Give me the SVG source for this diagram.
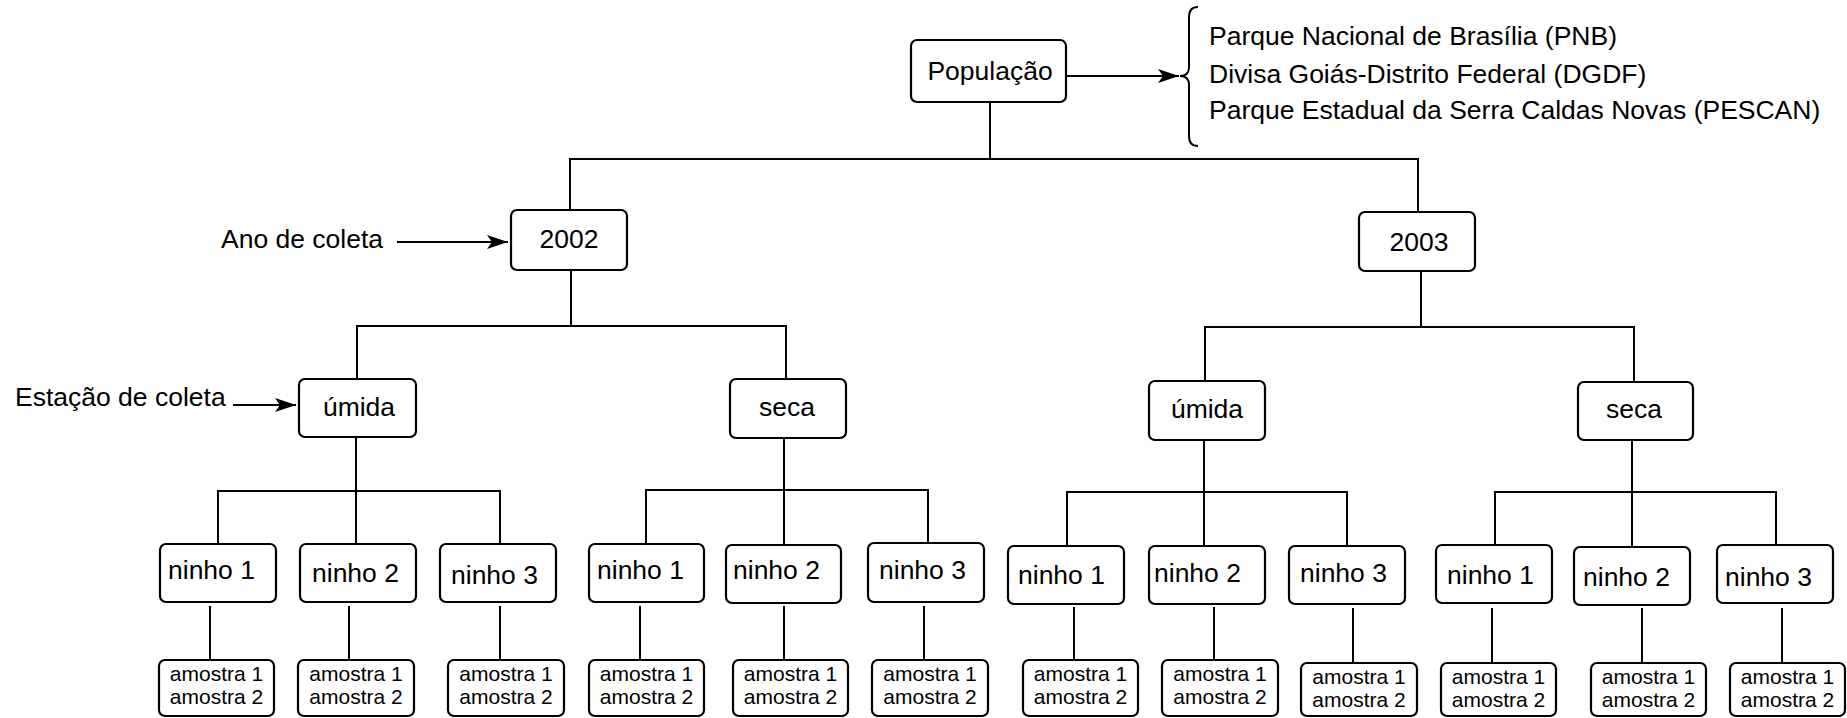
<svg xmlns="http://www.w3.org/2000/svg" width="1847" height="718" viewBox="0 0 1847 718">
<defs>
<style>
.box{fill:#fff;stroke:#000;stroke-width:2.2}
.t{font-family:"Liberation Sans",Arial,sans-serif;font-size:26.5px;fill:#000}
.s{font-family:"Liberation Sans",Arial,sans-serif;font-size:21px;fill:#000;text-anchor:middle}
.m{text-anchor:middle}
.c line,.c path{stroke:#000;stroke-width:2;fill:none}
</style>
<marker id="ah" markerUnits="userSpaceOnUse" markerWidth="22" markerHeight="14" refX="21" refY="7" orient="auto">
<path d="M0,0 L21,7 L0,14 L5,7 Z" fill="#000"/>
</marker>
</defs>
<rect width="1847" height="718" fill="#fff"/>

<g id="connectors" class="c">
<line x1="990" y1="102" x2="990" y2="159"/>
<line x1="569" y1="159" x2="1419" y2="159"/>
<line x1="570" y1="159" x2="570" y2="210"/>
<line x1="1418" y1="159" x2="1418" y2="212"/>
<line x1="1066" y1="76" x2="1179" y2="76" marker-end="url(#ah)"/>
<line x1="397" y1="242" x2="508" y2="242" marker-end="url(#ah)"/>
<line x1="233" y1="405" x2="296" y2="405" marker-end="url(#ah)"/>
<path d="M1198,7 Q1189,7 1189,17 L1189,67 Q1189,76 1180,76 Q1189,76 1189,85 L1189,136 Q1189,146 1198,146"/>
<line x1="571" y1="270" x2="571" y2="326"/>
<line x1="356" y1="326" x2="787" y2="326"/>
<line x1="357" y1="326" x2="357" y2="379"/>
<line x1="786" y1="326" x2="786" y2="379"/>
<line x1="1421" y1="271" x2="1421" y2="327"/>
<line x1="1204" y1="327" x2="1635" y2="327"/>
<line x1="1205" y1="327" x2="1205" y2="381"/>
<line x1="1634" y1="327" x2="1634" y2="382"/>
<line x1="356" y1="437" x2="356" y2="544"/>
<line x1="217" y1="491" x2="501" y2="491"/>
<line x1="218" y1="491" x2="218" y2="544"/>
<line x1="500" y1="491" x2="500" y2="544"/>
<line x1="784" y1="438" x2="784" y2="544"/>
<line x1="645" y1="490" x2="929" y2="490"/>
<line x1="646" y1="490" x2="646" y2="544"/>
<line x1="928" y1="490" x2="928" y2="544"/>
<line x1="1204" y1="440" x2="1204" y2="546"/>
<line x1="1066" y1="492" x2="1348" y2="492"/>
<line x1="1067" y1="492" x2="1067" y2="546"/>
<line x1="1347" y1="492" x2="1347" y2="546"/>
<line x1="1632" y1="440" x2="1632" y2="547"/>
<line x1="1494" y1="492" x2="1777" y2="492"/>
<line x1="1495" y1="492" x2="1495" y2="545"/>
<line x1="1776" y1="492" x2="1776" y2="545"/>
<line x1="210" y1="606" x2="210" y2="660"/>
<line x1="349" y1="606" x2="349" y2="660"/>
<line x1="500" y1="606" x2="500" y2="660"/>
<line x1="640" y1="606" x2="640" y2="660"/>
<line x1="784" y1="606" x2="784" y2="660"/>
<line x1="924" y1="606" x2="924" y2="660"/>
<line x1="1074" y1="607" x2="1074" y2="660"/>
<line x1="1214" y1="607" x2="1214" y2="660"/>
<line x1="1353" y1="608" x2="1353" y2="663"/>
<line x1="1492" y1="608" x2="1492" y2="663"/>
<line x1="1642" y1="608" x2="1642" y2="663"/>
<line x1="1782" y1="608" x2="1782" y2="663"/>
</g>

<g id="labels">
<text class="t" x="1209" y="45">Parque Nacional de Brasília (PNB)</text>
<text class="t" x="1209" y="83">Divisa Goiás-Distrito Federal (DGDF)</text>
<text class="t" x="1209" y="119">Parque Estadual da Serra Caldas Novas (PESCAN)</text>
<text class="t" x="221" y="248">Ano de coleta</text>
<text class="t" x="15" y="406">Estação de coleta</text>
</g>

<g id="populacao"><rect class="box" x="911" y="40" width="155" height="62" rx="6"/><text class="t m" x="990" y="80">População</text></g>
<g id="ano2002"><rect class="box" x="511" y="210" width="116" height="60" rx="6"/><text class="t m" x="569" y="248">2002</text></g>
<g id="ano2003"><rect class="box" x="1359" y="212" width="116" height="59" rx="6"/><text class="t m" x="1419" y="251">2003</text></g>

<g id="umida2002"><rect class="box" x="299" y="379" width="117" height="58" rx="6"/><text class="t m" x="359" y="416">úmida</text></g>
<g id="seca2002"><rect class="box" x="730" y="379" width="116" height="59" rx="6"/><text class="t m" x="787" y="416">seca</text></g>
<g id="umida2003"><rect class="box" x="1149" y="381" width="116" height="59" rx="6"/><text class="t m" x="1207" y="418">úmida</text></g>
<g id="seca2003"><rect class="box" x="1578" y="382" width="115" height="58" rx="6"/><text class="t m" x="1634" y="418">seca</text></g>

<g id="u02n1"><rect class="box" x="160" y="544" width="116" height="58" rx="6"/><text class="t" x="168" y="579">ninho 1</text></g>
<g id="u02n2"><rect class="box" x="300" y="544" width="116" height="58" rx="6"/><text class="t" x="312" y="582">ninho 2</text></g>
<g id="u02n3"><rect class="box" x="440" y="544" width="116" height="58" rx="6"/><text class="t" x="451" y="584">ninho 3</text></g>
<g id="s02n1"><rect class="box" x="589" y="544" width="115" height="58" rx="6"/><text class="t" x="597" y="579">ninho 1</text></g>
<g id="s02n2"><rect class="box" x="726" y="545" width="115" height="58" rx="6"/><text class="t" x="733" y="579">ninho 2</text></g>
<g id="s02n3"><rect class="box" x="868" y="543" width="116" height="59" rx="6"/><text class="t" x="879" y="579">ninho 3</text></g>
<g id="u03n1"><rect class="box" x="1008" y="546" width="116" height="58" rx="6"/><text class="t" x="1018" y="584">ninho 1</text></g>
<g id="u03n2"><rect class="box" x="1149" y="546" width="116" height="58" rx="6"/><text class="t" x="1154" y="582">ninho 2</text></g>
<g id="u03n3"><rect class="box" x="1289" y="546" width="116" height="58" rx="6"/><text class="t" x="1300" y="582">ninho 3</text></g>
<g id="s03n1"><rect class="box" x="1436" y="545" width="116" height="58" rx="6"/><text class="t" x="1447" y="584">ninho 1</text></g>
<g id="s03n2"><rect class="box" x="1574" y="547" width="116" height="58" rx="6"/><text class="t" x="1583" y="586">ninho 2</text></g>
<g id="s03n3"><rect class="box" x="1717" y="545" width="116" height="58" rx="6"/><text class="t" x="1725" y="586">ninho 3</text></g>

<g id="u02a1"><rect class="box" x="159" y="660" width="115" height="56" rx="6"/><text class="s" x="216.5" y="681">amostra 1</text><text class="s" x="216.5" y="704">amostra 2</text></g>
<g id="u02a2"><rect class="box" x="298" y="660" width="116" height="56" rx="6"/><text class="s" x="356" y="681">amostra 1</text><text class="s" x="356" y="704">amostra 2</text></g>
<g id="u02a3"><rect class="box" x="448" y="660" width="116" height="56" rx="6"/><text class="s" x="506" y="681">amostra 1</text><text class="s" x="506" y="704">amostra 2</text></g>
<g id="s02a1"><rect class="box" x="589" y="660" width="115" height="56" rx="6"/><text class="s" x="646.5" y="681">amostra 1</text><text class="s" x="646.5" y="704">amostra 2</text></g>
<g id="s02a2"><rect class="box" x="733" y="660" width="115" height="56" rx="6"/><text class="s" x="790.5" y="681">amostra 1</text><text class="s" x="790.5" y="704">amostra 2</text></g>
<g id="s02a3"><rect class="box" x="872" y="660" width="116" height="56" rx="6"/><text class="s" x="930" y="681">amostra 1</text><text class="s" x="930" y="704">amostra 2</text></g>
<g id="u03a1"><rect class="box" x="1023" y="660" width="115" height="56" rx="6"/><text class="s" x="1080.5" y="681">amostra 1</text><text class="s" x="1080.5" y="704">amostra 2</text></g>
<g id="u03a2"><rect class="box" x="1162" y="660" width="116" height="56" rx="6"/><text class="s" x="1220" y="681">amostra 1</text><text class="s" x="1220" y="704">amostra 2</text></g>
<g id="u03a3"><rect class="box" x="1301" y="663" width="116" height="53" rx="6"/><text class="s" x="1359" y="684">amostra 1</text><text class="s" x="1359" y="707">amostra 2</text></g>
<g id="s03a1"><rect class="box" x="1441" y="663" width="115" height="53" rx="6"/><text class="s" x="1498.5" y="684">amostra 1</text><text class="s" x="1498.5" y="707">amostra 2</text></g>
<g id="s03a2"><rect class="box" x="1591" y="663" width="115" height="53" rx="6"/><text class="s" x="1648.5" y="684">amostra 1</text><text class="s" x="1648.5" y="707">amostra 2</text></g>
<g id="s03a3"><rect class="box" x="1730" y="663" width="115" height="53" rx="6"/><text class="s" x="1787.5" y="684">amostra 1</text><text class="s" x="1787.5" y="707">amostra 2</text></g>
</svg>
